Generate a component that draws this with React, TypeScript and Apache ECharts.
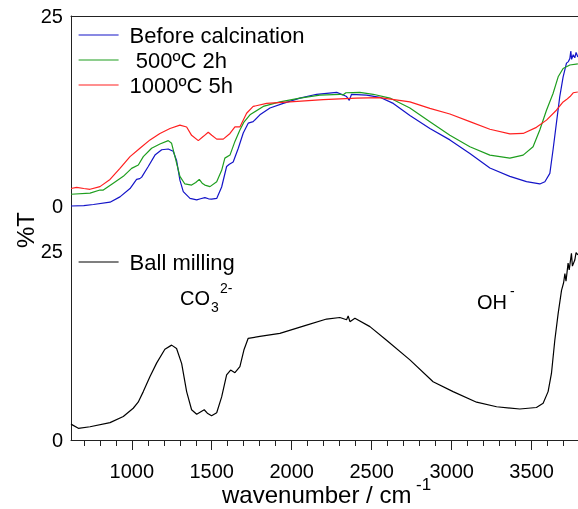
import React, { useEffect, useRef } from "react";
import * as echarts from "echarts";

// wavenumber (cm-1), %T
const beforeCalcination: number[][] = [
  [620, 0.0], [700, 0.05], [760, 0.2], [864, 0.5], [926, 1.2], [989, 2.3], [1030, 3.5], [1050, 3.6],
  [1062, 3.8], [1103, 5.2], [1145, 6.7], [1187, 7.4], [1228, 7.5], [1259, 7.2], [1280, 6.0], [1301, 3.4],
  [1322, 1.9], [1364, 1.0], [1406, 0.8], [1430, 0.95], [1457, 1.1], [1480, 0.95], [1499, 0.9], [1531, 1.0],
  [1562, 2.5], [1593, 5.2], [1610, 5.5], [1634, 5.8], [1666, 7.6], [1697, 9.6], [1728, 10.9], [1759, 11.1],
  [1801, 12.0], [1864, 12.9], [1947, 13.5], [2051, 14.2], [2156, 14.7], [2281, 14.95], [2312, 14.7],
  [2343, 14.4], [2360, 13.9], [2374, 14.7], [2468, 14.6], [2551, 14.3], [2635, 13.5], [2739, 11.9],
  [2864, 10.2], [2989, 8.7], [3114, 6.9], [3239, 5.0], [3364, 3.9], [3468, 3.2], [3551, 2.9], [3583, 3.2],
  [3614, 4.3], [3634, 7.4], [3655, 10.9], [3676, 14.4], [3697, 17.0], [3718, 18.8], [3730, 19.0],
  [3739, 19.4], [3745, 20.4], [3750, 19.3], [3760, 19.9], [3770, 19.5], [3778, 20.2], [3789, 19.6],
];

const calcined500: number[][] = [
  [620, 1.55], [739, 1.7], [801, 2.1], [822, 2.1], [884, 3.0], [947, 3.9], [999, 4.95], [1041, 5.4],
  [1072, 6.5], [1124, 7.6], [1176, 8.15], [1228, 8.6], [1249, 8.25], [1270, 6.5], [1301, 3.9], [1332, 2.9],
  [1374, 2.75], [1400, 3.1], [1422, 3.5], [1440, 3.0], [1457, 2.75], [1489, 2.55], [1531, 3.2], [1562, 4.7],
  [1582, 6.3], [1614, 6.7], [1645, 8.5], [1676, 10.0], [1700, 11.0], [1739, 12.0], [1822, 13.1],
  [1926, 13.7], [2051, 14.2], [2176, 14.6], [2301, 14.7], [2320, 14.6], [2339, 14.9], [2426, 14.95],
  [2509, 14.7], [2614, 14.2], [2739, 12.9], [2864, 11.1], [2989, 9.3], [3114, 7.8], [3239, 6.7],
  [3364, 6.3], [3447, 6.7], [3509, 7.8], [3551, 10.0], [3593, 12.6], [3634, 14.8], [3666, 17.0],
  [3697, 18.1], [3739, 18.55], [3789, 18.7],
];

const calcined1000: number[][] = [
  [620, 2.3], [655, 2.45], [700, 2.3], [739, 2.2], [801, 2.55], [864, 3.5], [926, 4.95], [989, 6.5],
  [1051, 7.6], [1114, 8.7], [1176, 9.55], [1239, 10.2], [1301, 10.65], [1343, 10.4], [1374, 9.3],
  [1416, 8.6], [1450, 9.2], [1478, 9.7], [1500, 9.3], [1531, 8.8], [1572, 8.8], [1614, 9.55], [1645, 10.4],
  [1676, 10.4], [1718, 12.2], [1759, 13.1], [1843, 13.5], [1989, 13.7], [2197, 14.0], [2405, 14.2],
  [2551, 14.25], [2739, 13.7], [2864, 12.85], [2989, 12.1], [3114, 11.1], [3239, 10.1], [3364, 9.5],
  [3447, 9.55], [3530, 10.35], [3593, 11.3], [3655, 12.6], [3697, 13.7], [3718, 14.0], [3740, 14.4],
  [3760, 14.9], [3789, 15.0],
];

const ballMilling: number[][] = [
  [620, 2.1], [666, 1.55], [739, 1.75], [864, 2.3], [947, 3.1], [1009, 4.2], [1040, 5.0], [1072, 6.4],
  [1114, 8.4], [1156, 10.2], [1207, 12.0], [1249, 12.55], [1280, 12.1], [1312, 10.1], [1343, 6.4],
  [1374, 4.0], [1406, 3.4], [1453, 4.0], [1475, 3.5], [1499, 3.2], [1531, 3.6], [1562, 5.7], [1593, 8.6],
  [1618, 9.25], [1645, 8.9], [1676, 9.7], [1701, 11.9], [1728, 13.45], [1801, 13.7], [1926, 14.1],
  [2093, 15.2], [2218, 16.0], [2301, 16.2], [2343, 15.9], [2353, 16.4], [2364, 15.65], [2395, 16.1],
  [2489, 15.0], [2593, 13.2], [2739, 10.6], [2884, 7.7], [3009, 6.4], [3156, 5.0], [3281, 4.4],
  [3426, 4.1], [3530, 4.3], [3572, 4.85], [3603, 6.4], [3624, 8.8], [3645, 13.2], [3666, 16.75],
  [3687, 19.8], [3700, 20.8], [3708, 22.0], [3715, 21.0], [3728, 23.4], [3735, 22.5], [3749, 24.7],
  [3755, 23.0], [3770, 23.8], [3778, 24.8], [3789, 24.5],
];

const topNames = ["Before calcination", " 500ºC 2h", "1000ºC 5h"];
const bottomName = "Ball milling";
const majorTicks = [1000, 1500, 2000, 2500, 3000, 3500];
const minorTicks = [700, 800, 900, 1100, 1200, 1300, 1400, 1600, 1700, 1800, 1900, 2100, 2200, 2300, 2400,
  2600, 2700, 2800, 2900, 3100, 3200, 3300, 3400, 3600, 3700];
const yTickLabels = [0, 25];
const X_MIN = 620;
const X_MAX = 3790;

const FONT = "'Liberation Sans', Arial, sans-serif";
const AXIS = "#222";

export default function App() {
  const ref = useRef<HTMLDivElement>(null);
  useEffect(() => {
    const chart = echarts.init(ref.current!, null, { renderer: "svg" });
    const lineSeries = (name: string, data: number[][], color: string, idx: number) => ({
      name,
      type: "line",
      data,
      xAxisIndex: idx === 0 ? 0 : 1,
      yAxisIndex: idx,
      symbol: "none",
      color,
      lineStyle: { color, width: 1.2 },
      clip: true,
    });
    const legendCommon = {
      left: 78,
      orient: "vertical",
      padding: 0,
      itemWidth: 40,
      itemHeight: 14,
      itemGap: 3,
      selectedMode: false,
      itemStyle: { opacity: 0 },
      lineStyle: { width: 1.2 },
      textStyle: { fontSize: 22, color: "#000", fontFamily: FONT, lineHeight: 22, padding: [0, 0, 0, 6] },
    };
    const plain = (v: number) => String(v);
    chart.setOption({
      animation: false,
      textStyle: { fontFamily: FONT },
      grid: [
        { left: 71, right: 0, top: 16, height: 235 },
        { left: 71, right: 0, top: 251, height: 189 },
      ],
      xAxis: [
        {
          gridIndex: 0, type: "value", min: X_MIN, max: X_MAX, position: "top",
          axisLine: { show: true, onZero: false, lineStyle: { color: AXIS, width: 1 } },
          axisTick: { show: false }, axisLabel: { show: false }, splitLine: { show: false },
        },
        {
          gridIndex: 1, type: "value", min: X_MIN, max: X_MAX, position: "bottom",
          axisLine: { show: true, onZero: false, lineStyle: { color: AXIS, width: 1 } },
          axisTick: { show: true, inside: false, length: 10, customValues: majorTicks, lineStyle: { color: AXIS } },
          axisLabel: { customValues: majorTicks, formatter: plain, fontSize: 20, color: "#000", margin: 21, fontFamily: FONT },
          splitLine: { show: false },
        },
        {
          gridIndex: 1, type: "value", min: X_MIN, max: X_MAX, position: "bottom", offset: 0,
          axisLine: { show: false, onZero: false },
          axisTick: { show: true, inside: false, length: 6, customValues: minorTicks, lineStyle: { color: AXIS } },
          axisLabel: { show: false }, splitLine: { show: false },
        },
      ],
      yAxis: [
        {
          gridIndex: 0, type: "value", min: -5.92, max: 25,
          axisLine: { show: true, onZero: false, lineStyle: { color: AXIS, width: 1 } },
          axisTick: { show: false },
          axisLabel: { customValues: yTickLabels, formatter: plain, fontSize: 20, color: "#000", margin: 8, fontFamily: FONT },
          splitLine: { show: false },
        },
        {
          gridIndex: 1, type: "value", min: 0, max: 25,
          axisLine: { show: true, onZero: false, lineStyle: { color: AXIS, width: 1 } },
          axisTick: { show: false },
          axisLabel: { customValues: yTickLabels, formatter: plain, fontSize: 20, color: "#000", margin: 8, fontFamily: FONT },
          splitLine: { show: false },
        },
      ],
      legend: [
        { ...legendCommon, top: 24, data: topNames },
        { ...legendCommon, top: 251, data: [bottomName] },
      ],
      series: [
        lineSeries(topNames[0], beforeCalcination, "#1414c8", 0),
        lineSeries(topNames[1], calcined500, "#1e9e1e", 0),
        lineSeries(topNames[2], calcined1000, "#ff2020", 0),
        lineSeries(bottomName, ballMilling, "#000000", 1),
      ],
      graphic: [
        { type: "text", x: 25, y: 230, rotation: Math.PI / 2,
          style: { text: "%T", fontSize: 24, fontFamily: FONT, fill: "#000", textAlign: "center", textVerticalAlign: "middle" } },
        { type: "text", x: 222, y: 494,
          style: { text: "wavenumber / cm", fontSize: 24, fontFamily: FONT, fill: "#000", textAlign: "left", textVerticalAlign: "middle" } },
        { type: "text", x: 416, y: 484,
          style: { text: "-1", fontSize: 17, fontFamily: FONT, fill: "#000", textAlign: "left", textVerticalAlign: "middle" } },
        { type: "text", x: 180, y: 298,
          style: { text: "CO", fontSize: 20, fontFamily: FONT, fill: "#000", textAlign: "left", textVerticalAlign: "middle" } },
        { type: "text", x: 211, y: 307,
          style: { text: "3", fontSize: 14, fontFamily: FONT, fill: "#000", textAlign: "left", textVerticalAlign: "middle" } },
        { type: "text", x: 220, y: 288,
          style: { text: "2-", fontSize: 14, fontFamily: FONT, fill: "#000", textAlign: "left", textVerticalAlign: "middle" } },
        { type: "text", x: 477, y: 302,
          style: { text: "OH", fontSize: 20, fontFamily: FONT, fill: "#000", textAlign: "left", textVerticalAlign: "middle" } },
        { type: "text", x: 510, y: 291,
          style: { text: "-", fontSize: 14, fontFamily: FONT, fill: "#000", textAlign: "left", textVerticalAlign: "middle" } },
      ],
    });
    return () => chart.dispose();
  }, []);
  return <div ref={ref} style={{ position: "fixed", left: 0, top: 0, width: 578, height: 509 }} />;
}
